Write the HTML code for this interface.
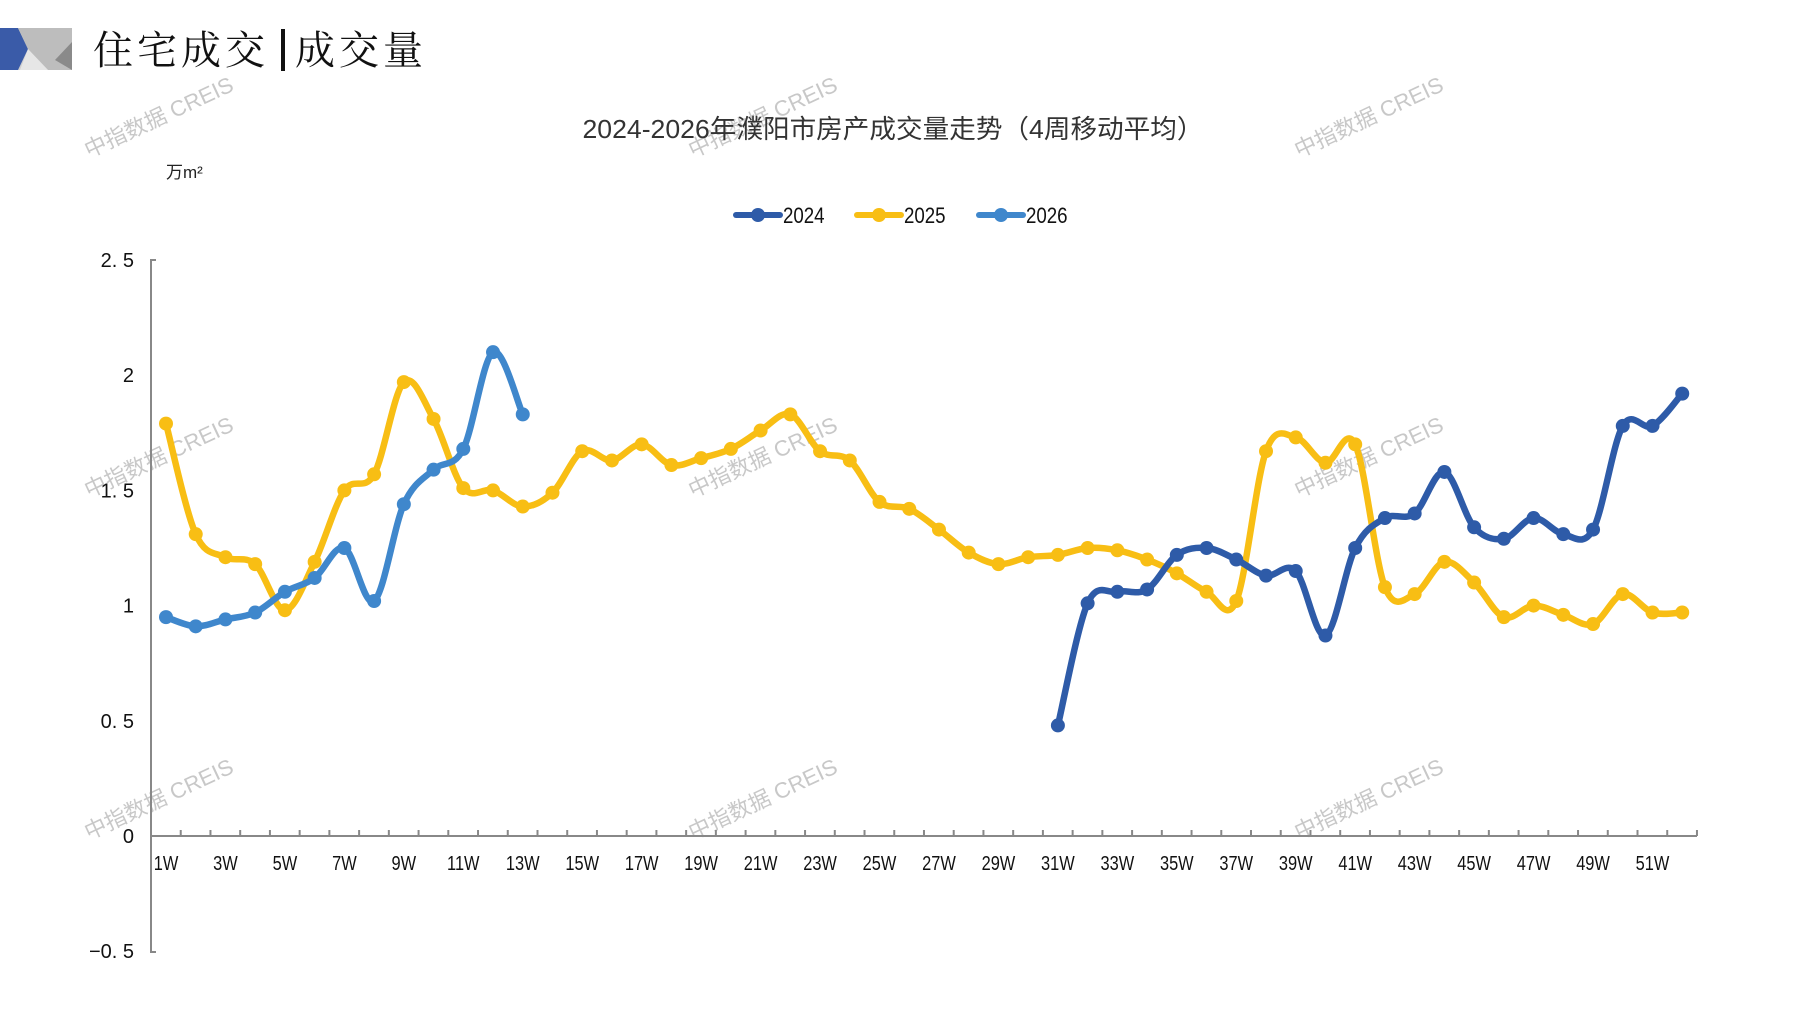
<!DOCTYPE html>
<html><head><meta charset="utf-8"><style>
body{margin:0;background:#fff;}
svg{display:block;}
</style></head><body>
<svg id="s" width="1797" height="1010" xmlns="http://www.w3.org/2000/svg" font-family="'Liberation Sans','Noto Sans CJK SC',sans-serif">
<rect width="1797" height="1010" fill="#fff"/>
<polygon points="0,28 72,28 72,70 0,70" fill="#cfcfcf"/>
<polygon points="0,28 18,28 28,49 18,70 0,70" fill="#3a5ba8"/>
<polygon points="18,28 72,28 72,70 48,70 28,49" fill="#bdbdbd"/>
<polygon points="28,49 48,70 20,70" fill="#e6e6e6"/>
<polygon points="72,42 72,70 55,60" fill="#8a8a8a"/>
<text x="93" y="64" font-family="'Noto Serif CJK SC',serif" font-size="40" fill="#111" letter-spacing="4">住宅成交</text>
<rect x="281" y="29" width="4" height="42" fill="#111"/>
<text x="295" y="64" font-family="'Noto Serif CJK SC',serif" font-size="40" fill="#111" letter-spacing="4">成交量</text>
<g id="wm" fill="#c8c8c8" font-size="22"></g>
<text x="893" y="138" text-anchor="middle" font-size="26" fill="#333" textLength="621" lengthAdjust="spacingAndGlyphs">2024-2026年濮阳市房产成交量走势（4周移动平均）</text>
<text x="166" y="178" font-size="17" fill="#222">万m²</text>
<g id="leg"></g>
<g id="ax" stroke="#888" stroke-width="2" fill="none"></g>
<g id="lab" font-size="20" fill="#111"></g>
<g id="ser"></g>
</svg>
<script>
const NS="http://www.w3.org/2000/svg";
function el(p,t,a,txt){const e=document.createElementNS(NS,t);for(const k in a)e.setAttribute(k,a[k]);if(txt!=null)e.textContent=txt;document.getElementById(p).appendChild(e);return e;}
const X=i=>166+(i-1)*29.73, Y=v=>836-v*230.4;
[[162,124],[766,124],[1372,124],[162,464],[766,464],[1372,464],[162,806],[766,806],[1372,806]].forEach(([x,y])=>{
 el("wm","text",{x:x,y:y,"text-anchor":"middle",transform:`rotate(-25 ${x} ${y})`},"中指数据 CREIS");});
el("ax","path",{d:"M156 260 H151 V952 H156"});
el("ax","line",{x1:151,y1:836,x2:1697,y2:836});
for(let i=1;i<=52;i++){const x=151+i*29.73;el("ax","line",{x1:x,y1:836,x2:x,y2:830});}
[[2.5,"2. 5"],[2,"2"],[1.5,"1. 5"],[1,"1"],[0.5,"0. 5"],[0,"0"],[-0.5,"−0. 5"]].forEach(([v,t])=>el("lab","text",{x:134,y:Y(v)+7,"text-anchor":"end"},t));
for(let i=1;i<=51;i+=2){el("lab","text",{x:X(i)/0.82,y:870,"text-anchor":"middle",transform:`scale(0.82 1)`},i+"W");}
[["#2E5BA8",736,"2024"],["#F8BE14",857,"2025"],["#3F87CC",979,"2026"]].forEach(([c,x,t])=>{
 el("leg","line",{x1:x,y1:215,x2:x+44,y2:215,stroke:c,"stroke-width":6,"stroke-linecap":"round"});
 el("leg","circle",{cx:x+22,cy:215,r:7,fill:c});
 el("leg","text",{x:(x+47)/0.85,y:223,"font-size":22,fill:"#111",transform:"scale(0.85 1)"},t);});
const d25=[1.79,1.31,1.21,1.18,0.98,1.19,1.50,1.57,1.97,1.81,1.51,1.50,1.43,1.49,1.67,1.63,1.70,1.61,1.64,1.68,1.76,1.83,1.67,1.63,1.45,1.42,1.33,1.23,1.18,1.21,1.22,1.25,1.24,1.20,1.14,1.06,1.02,1.67,1.73,1.62,1.70,1.08,1.05,1.19,1.10,0.95,1.00,0.96,0.92,1.05,0.97,0.97];
const d24=[0.48,1.01,1.06,1.07,1.22,1.25,1.20,1.13,1.15,0.87,1.25,1.38,1.40,1.58,1.34,1.29,1.38,1.31,1.33,1.78,1.78,1.92];
const d26=[0.95,0.91,0.94,0.97,1.06,1.12,1.25,1.02,1.44,1.59,1.68,2.10,1.83];
function draw(data,start,c){const p=data.map((v,k)=>[X(start+k),Y(v)]);
 let d=`M${p[0][0]} ${p[0][1]}`;
 for(let i=0;i<p.length-1;i++){const p0=p[i-1]||p[i],p1=p[i],p2=p[i+1],p3=p[i+2]||p2;const t=6;
  d+=` C${p1[0]+(p2[0]-p0[0])/t} ${p1[1]+(p2[1]-p0[1])/t} ${p2[0]-(p3[0]-p1[0])/t} ${p2[1]-(p3[1]-p1[1])/t} ${p2[0]} ${p2[1]}`;}
 el("ser","path",{d:d,fill:"none",stroke:c,"stroke-width":6.5,"stroke-linejoin":"round"});
 p.forEach(q=>el("ser","circle",{cx:q[0],cy:q[1],r:7,fill:c}));}
draw(d25,1,"#F8BE14");draw(d24,31,"#2E5BA8");draw(d26,1,"#3F87CC");
</script>
</body></html>
